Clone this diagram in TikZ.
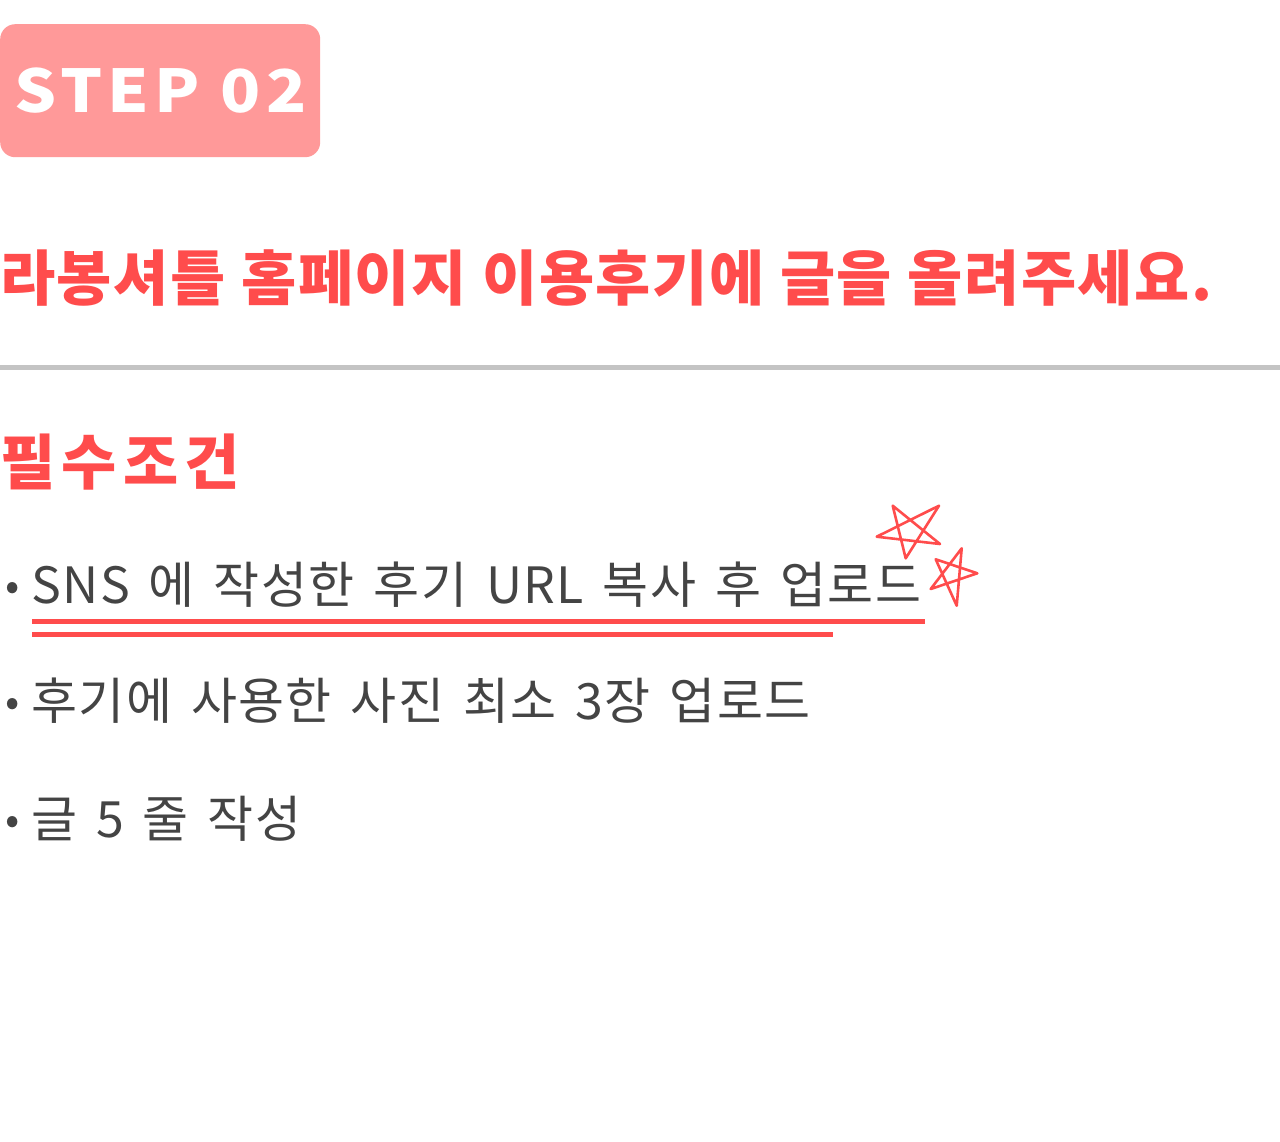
\documentclass[tikz,border=0pt]{standalone}
\usepackage{fontspec}
\setmainfont{Noto Sans CJK KR}
\newfontfamily\stepfont[LetterSpace=9,FakeStretch=1.12]{Noto Sans CJK KR}
\newfontfamily\titlefont[LetterSpace=2.7]{Noto Sans CJK KR}
\newfontfamily\condfont[LetterSpace=10.5]{Noto Sans CJK KR}
\newfontfamily\itemfont[LetterSpace=2.9,WordSpace=1.5]{Noto Sans CJK KR}
\usetikzlibrary{positioning}
\definecolor{badgepink}{RGB}{255,153,153}
\definecolor{titlered}{RGB}{255,76,76}
\definecolor{bodygray}{RGB}{68,68,68}
\definecolor{rulegray}{RGB}{196,196,196}

\begin{document}
\begin{tikzpicture}[x=1pt,y=1pt,yscale=-1,xscale=1,
	itemtext/.style={anchor=base west,inner sep=0pt,text=bodygray,font=\itemfont\fontsize{50}{60}\selectfont},
	itemdot/.style={anchor=base,inner sep=0pt,text=bodygray,font=\fontsize{42}{50}\selectfont},
	starline/.style={draw=titlered,line width=2.6pt,line join=round}]
		\useasboundingbox (0,0) rectangle (1280,1141);
		
		% badge
		\node [fill=badgepink,rounded corners=15pt,minimum width=320pt,minimum height=133pt,inner sep=0pt,anchor=north west] (badge) at (0,24) {};
		\node [text=white,font=\stepfont\bfseries\fontsize{59}{60}\selectfont,inner sep=0pt] (steplabel) at (badge.center) {STEP 02};
		
		% title
		\node [anchor=base west,inner sep=0pt,text=titlered,font=\titlefont\bfseries\fontsize{60}{70}\selectfont] (title) at (0,300) {라봉셔틀 홈페이지 이용후기에 글을 올려주세요.};
		\draw [rulegray,line width=5pt] (0,367) -- (1280,367);
		
		\node [anchor=base west,inner sep=0pt,text=titlered,font=\condfont\bfseries\fontsize{60}{70}\selectfont] (cond) at (0,484) {필수조건};
		
		% items
		\node [itemdot] (dot1) at (13,600) {•};
		\node [itemtext] (item1) at (31,603) {SNS 에 작성한 후기 URL 복사 후 업로드};
		\node [itemdot] (dot2) at (13,716) {•};
		\node [itemtext] (item2) at (31,719) {후기에 사용한 사진 최소 3장 업로드};
		\node [itemdot] (dot3) at (13,834) {•};
		\node [itemtext] (item3) at (31,837) {글 5 줄 작성};
		
		% underline
		\draw [titlered,line width=5pt] (32,621) -- (925,621);
		\draw [titlered,line width=5pt] (32,634) -- (833,634);
		
		% stars
		\draw [starline] (892.7,505.7) -- (905.7,558.3) -- (939,505.7) -- (876.7,536.7) -- (940,544) -- cycle;
		\draw [starline] (961.7,548.3) -- (956.7,605.7) -- (935.7,559.3) -- (977.3,573.3) -- (930.7,589) -- cycle;
		
\end{tikzpicture}
\end{document}
